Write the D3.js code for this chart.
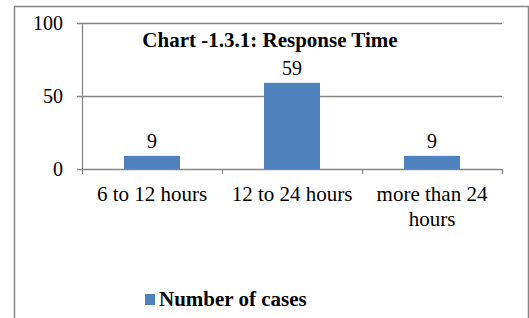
<!DOCTYPE html>
<html>
<head>
<meta charset="utf-8">
<script src="https://cdn.jsdelivr.net/npm/d3@7"></script>
<style>
  body { margin: 0; background: #fff; }
  svg { display: block; font-family: "Liberation Serif", "Times New Roman", serif; }
</style>
</head>
<body>
<svg width="529" height="318"></svg>
<script>
var categories = [['6 to 12 hours'], ['12 to 24 hours'], ['more than 24', 'hours']];
var values = [9, 59, 9];
var yTicks = [0, 50, 100];
var title = 'Chart -1.3.1: Response Time';
var seriesName = 'Number of cases';

var svg = d3.select('svg');
var gray = '#868686';
var barColor = '#4f81bd';

// outer frame (left, top, right only show in the crop)
svg.append('path')
  .attr('d', 'M14.5,318 V6.5 H528.5 V318')
  .attr('fill', 'none')
  .attr('stroke', gray)
  .attr('stroke-width', 1.5);

var plotLeft = 82, plotRight = 502, plotTop = 23, plotBottom = 169;

var x = d3.scaleBand()
  .domain(d3.range(categories.length))
  .range([plotLeft, plotRight])
  .paddingInner(0.6)
  .paddingOuter(0.3);

var y = d3.scaleLinear()
  .domain([0, 100])
  .range([plotBottom, plotTop]);

// gridlines + y labels
var yAxis = svg.append('g');
yAxis.selectAll('line')
  .data(yTicks)
  .enter()
  .append('line')
  .attr('x1', plotLeft - 5)
  .attr('x2', plotRight)
  .attr('y1', function(d) { return Math.round(y(d)) + 0.5; })
  .attr('y2', function(d) { return Math.round(y(d)) + 0.5; })
  .attr('stroke', gray)
  .attr('stroke-width', 1.3);

yAxis.append('line')
  .attr('x1', plotLeft + 0.5)
  .attr('x2', plotLeft + 0.5)
  .attr('y1', y(100))
  .attr('y2', y(0))
  .attr('stroke', gray)
  .attr('stroke-width', 1.3);

yAxis.selectAll('text')
  .data(yTicks)
  .enter()
  .append('text')
  .attr('x', plotLeft - 19)
  .attr('y', function(d) { return y(d) + 7; })
  .attr('text-anchor', 'end')
  .attr('font-size', 20)
  .text(function(d) { return d; });

// category tick marks
var bounds = d3.range(categories.length + 1).map(function(i) {
  return plotLeft + i * (plotRight - plotLeft) / categories.length;
});
svg.selectAll('.xtick')
  .data(bounds)
  .enter()
  .append('line')
  .attr('class', 'xtick')
  .attr('x1', function(d) { return Math.round(d) + 0.5; })
  .attr('x2', function(d) { return Math.round(d) + 0.5; })
  .attr('y1', plotBottom)
  .attr('y2', plotBottom + 5)
  .attr('stroke', gray)
  .attr('stroke-width', 1.3);

// bars
svg.selectAll('.bar')
  .data(values)
  .enter()
  .append('rect')
  .attr('class', 'bar')
  .attr('x', function(d, i) { return x(i); })
  .attr('width', x.bandwidth())
  .attr('y', function(d) { return y(d); })
  .attr('height', function(d) { return y(0) - y(d); })
  .attr('fill', barColor);

// value labels
svg.selectAll('.val')
  .data(values)
  .enter()
  .append('text')
  .attr('class', 'val')
  .attr('x', function(d, i) { return x(i) + x.bandwidth() / 2; })
  .attr('y', function(d) { return y(d) - 8; })
  .attr('text-anchor', 'middle')
  .attr('font-size', 20)
  .text(function(d) { return d; });

// category labels
var catLabels = svg.selectAll('.cat')
  .data(categories)
  .enter()
  .append('text')
  .attr('class', 'cat')
  .attr('text-anchor', 'middle')
  .attr('font-size', 21);
catLabels.selectAll('tspan')
  .data(function(d, i) { return d.map(function(s) { return { s: s, i: i }; }); })
  .enter()
  .append('tspan')
  .attr('x', function(d) { return x(d.i) + x.bandwidth() / 2; })
  .attr('y', function(d, j) { return 201 + j * 24.5; })
  .text(function(d) { return d.s; });

// title
svg.append('text')
  .attr('x', 270)
  .attr('y', 47)
  .attr('text-anchor', 'middle')
  .attr('font-size', 21)
  .attr('font-weight', 'bold')
  .text(title);

// legend
svg.append('rect')
  .attr('x', 145)
  .attr('y', 294)
  .attr('width', 10)
  .attr('height', 11)
  .attr('fill', barColor);
svg.append('text')
  .attr('x', 159)
  .attr('y', 306)
  .attr('font-size', 21)
  .attr('font-weight', 'bold')
  .text(seriesName);
</script>
</body>
</html>
